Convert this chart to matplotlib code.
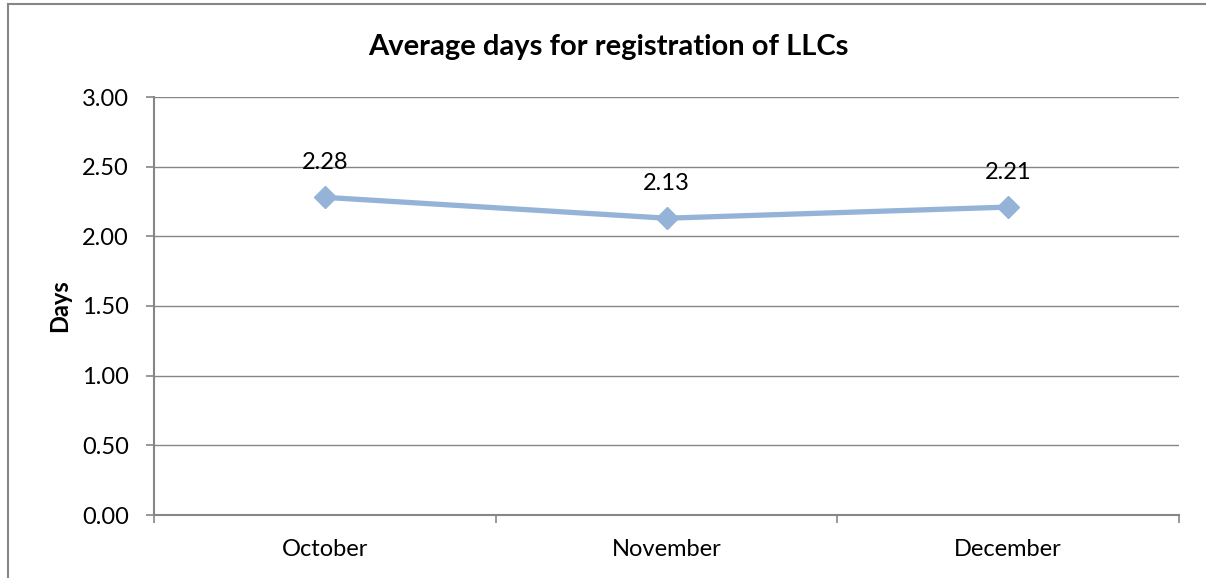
import matplotlib.pyplot as plt
from matplotlib.lines import Line2D

months = ['October', 'November', 'December']
avg_days = [2.28, 2.13, 2.21]
y_ticks = [0.0, 0.5, 1.0, 1.5, 2.0, 2.5, 3.0]

plt.rcParams['font.family'] = ['Lato', 'DejaVu Sans']

W, H = 1206, 578
fig = plt.figure(figsize=(W / 100, H / 100), dpi=100)
ax = fig.add_axes([154 / W, 1 - 515 / H, (1179 - 154) / W, (515 - 97) / H])

grey = '#868686'
line_col = '#95B3D7'

x = list(range(len(months)))
ax.plot(x, avg_days, color=line_col, lw=3.8, marker='D', markersize=11,
        markerfacecolor=line_col, markeredgecolor=line_col, zorder=3)
for xi, v in zip(x, avg_days):
    ax.annotate(f'{v:.2f}', (xi, v), xytext=(0, 25), textcoords='offset points',
                ha='center', va='center', fontsize=17)

ax.set_xlim(-0.5, len(months) - 0.5)
ax.set_ylim(0, 3)
ax.set_yticks(y_ticks)
ax.set_yticklabels([f'{t:.2f}' for t in y_ticks])
ax.set_xticks(x)
ax.set_xticklabels(months)
ax.set_xticks([i - 0.5 for i in range(len(months) + 1)], minor=True)

ax.tick_params(axis='x', which='major', length=0, pad=17, labelsize=17)
ax.tick_params(axis='x', which='minor', length=6, width=1.2, color=grey, direction='out')
ax.tick_params(axis='y', length=6, width=1.2, color=grey, pad=12, labelsize=17)

ax.grid(axis='y', color=grey, lw=1)
ax.set_axisbelow(True)
for s in ['top', 'right']:
    ax.spines[s].set_visible(False)
for s in ['left', 'bottom']:
    ax.spines[s].set_color(grey)
    ax.spines[s].set_linewidth(1.5)

ax.set_ylabel('Days', fontsize=17, fontweight='bold', labelpad=8)

fig.text(608 / W, 1 - 47 / H, 'Average days for registration of LLCs',
         ha='center', va='center', fontsize=21, fontweight='bold')

# outer chart border (left and top edges visible)
fig.add_artist(Line2D([8 / W, 8 / W], [0, 1 - 4 / H], transform=fig.transFigure,
                      color=grey, lw=1.5))
fig.add_artist(Line2D([8 / W, 1], [1 - 4 / H, 1 - 4 / H], transform=fig.transFigure,
                      color=grey, lw=1.5))

fig.savefig('out.png', dpi=100)
